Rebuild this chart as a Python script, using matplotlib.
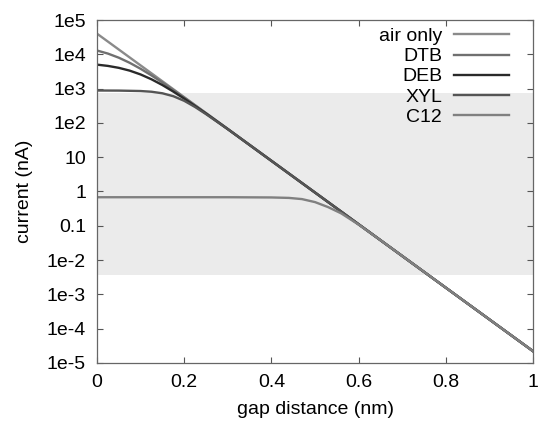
import matplotlib
matplotlib.use('Agg')
import matplotlib.pyplot as plt

plt.rcParams['font.family'] = ['Liberation Sans', 'DejaVu Sans']
plt.rcParams['font.size'] = 14

# values (gap in nm, current in nA)
air_x = [0.0, 1.0]
air_y = [4.0e4, 2.2e-5]

dtb_x = [0.0, 0.025, 0.05, 0.075, 0.1, 0.125, 0.15, 0.175, 0.2, 0.25, 0.3, 1.0]
dtb_y = [1.29e4, 1.05e4, 7960, 5650, 3780, 2420, 1500, 908, 544, 191, 66.2, 2.2e-5]

deb_x = [0.0, 0.025, 0.05, 0.075, 0.1, 0.125, 0.15, 0.175, 0.2, 0.25, 0.3, 1.0]
deb_y = [5000, 4590, 4030, 3340, 2585, 1866, 1268, 817, 510, 187, 65.6, 2.2e-5]

xyl_x = [0.0, 0.05, 0.1, 0.125, 0.15, 0.175, 0.2, 0.225, 0.25, 0.3, 1.0]
xyl_y = [880, 875, 850, 810, 730, 600, 440, 290, 180, 65.5, 2.2e-5]

c12_x = [0.0, 0.3, 0.4, 0.44, 0.47, 0.5, 0.53, 0.56, 0.6, 0.65, 1.0]
c12_y = [0.68, 0.68, 0.67, 0.65, 0.60, 0.49, 0.35, 0.23, 0.108, 0.0381, 2.2e-5]

band_lo, band_hi = 3.7e-3, 740

yticks = [1e-5, 1e-4, 1e-3, 1e-2, 0.1, 1, 10, 1e2, 1e3, 1e4, 1e5]
ytick_labels = ['1e-5', '1e-4', '1e-3', '1e-2', '0.1', '1', '10', '1e2', '1e3', '1e4', '1e5']
xticks = [0, 0.2, 0.4, 0.6, 0.8, 1]
xtick_labels = ['0', '0.2', '0.4', '0.6', '0.8', '1']

fig = plt.figure(figsize=(5.39, 4.26), dpi=100)
ax = fig.add_axes([0.18, 0.148, 0.809, 0.805])

ax.axhspan(band_lo, band_hi, color='#ebebeb', zorder=0, lw=0)

ax.plot(air_x, air_y, color='#8a8a8a', lw=1.7, label='air only')
ax.plot(dtb_x, dtb_y, color='#707070', lw=1.7, label='DTB')
ax.plot(deb_x, deb_y, color='#2a2a2a', lw=1.7, label='DEB')
ax.plot(xyl_x, xyl_y, color='#555555', lw=1.7, label='XYL')
ax.plot(c12_x, c12_y, color='#808080', lw=1.7, label='C12')

ax.set_yscale('log')
ax.set_xlim(0, 1)
ax.set_ylim(1e-5, 1e5)
ax.set_yticks(yticks)
ax.set_yticklabels(ytick_labels)
ax.set_xticks(xticks)
ax.set_xticklabels(xtick_labels)
ax.minorticks_off()
ax.tick_params(direction='in', top=True, right=True, length=4, width=0.8,
               color='#555555', pad=8)

for s in ax.spines.values():
    s.set_color('#666666')
    s.set_linewidth(0.9)

ax.set_xlabel('gap distance (nm)', labelpad=7)
ax.set_ylabel('current (nA)', labelpad=10)

ax.legend(loc='upper right', bbox_to_anchor=(0.945, 0.978), frameon=False,
          markerfirst=False, handlelength=2.85, handletextpad=0.6,
          labelspacing=0.13, borderpad=0, borderaxespad=0)

fig.savefig('out.png', dpi=100)
